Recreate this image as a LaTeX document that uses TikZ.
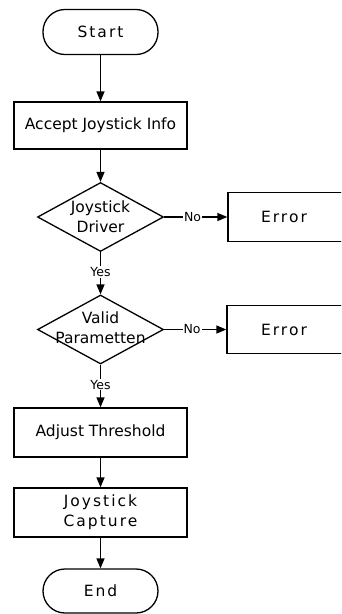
\documentclass[tikz,border=0pt]{standalone}
\usepackage{fontspec}
\setmainfont{DejaVu Sans}
\usetikzlibrary{arrows.meta,shapes.geometric}
\begin{document}
\begin{tikzpicture}[x=1pt,y=-1pt,
  every node/.style={font=\fontsize{15.5}{20}\selectfont},
  terminal/.style={draw,line width=1.3pt,rounded corners=22pt,minimum width=115pt,minimum height=45pt,inner sep=0pt,
    font=\fontsize{15.5}{20}\selectfont\addfontfeature{LetterSpace=13}},
  process/.style={draw,line width=1.3pt,minimum width=173pt,minimum height=47pt,inner sep=0pt,align=center},
  decision/.style={draw,line width=1.3pt,diamond,minimum width=126pt,minimum height=69pt,inner sep=0pt},
  errbox/.style={draw,line width=1.3pt,minimum width=130pt,minimum height=49pt,inner sep=0pt},
  spaced/.style={font=\fontsize{15.5}{20}\selectfont\addfontfeature{LetterSpace=13}},
  flow/.style={line width=1.3pt,-{Triangle[length=10pt,width=8pt]}},
  tag/.style={font=\fontsize{12.5}{14}\selectfont,fill=white,inner sep=1pt}
]
\useasboundingbox (0,0) rectangle (341,614);
\clip (0,0) rectangle (341,614);

% main column
\node[terminal] (start) at (100.5,32) {Start};
\node[process] (accept) at (100.5,125.5) {Accept Joystick Info};
\node[decision] (d1) at (100.5,217) {};
\node[align=center] (d1t) at (100.5,217) {Joystick\\Driver};
\node[decision] (d2) at (100.5,329.5) {};
\node[align=center] (d2t) at (100.5,328) {Valid\\Parametten};
\node[process,minimum height=49pt] (adjust) at (100.5,432.5) {Adjust Threshold};
\node[process,minimum height=49pt,spaced,align=center] (capture) at (100.5,512.5) {Joystick\\Capture};
\node[terminal,minimum height=44pt] (end) at (100.5,591) {End};

% error branches (boxes run past the right edge)
\node[errbox] (e1) at (293,217) {};
\node[spaced] (e1t) at (284,217) {Error};
\node[errbox,minimum height=48pt] (e2) at (292,329.5) {};
\node[spaced] (e2t) at (284,329.5) {Error};

% connectors
\draw[flow] (start) -- (accept);
\draw[flow] (accept) -- (d1);
\draw[flow] (d1.east) -- node[tag,pos=0.45] {No} (e1.west);
\draw[flow] (d1.south) -- node[tag,pos=0.47] {Yes} (d2.north);
\draw[flow] (d2.east) -- node[tag,pos=0.45] {No} (e2.west);
\draw[flow] (d2.south) -- node[tag,pos=0.47] {Yes} (adjust.north);
\draw[flow] (adjust) -- (capture);
\draw[flow] (capture) -- (end);
\end{tikzpicture}
\end{document}
